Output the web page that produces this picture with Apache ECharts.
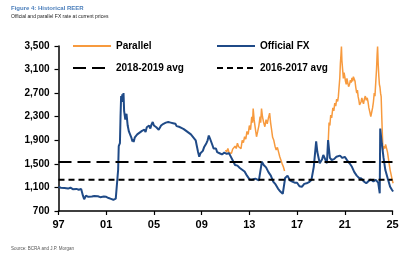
<!DOCTYPE html>
<html>
<head>
<meta charset="utf-8">
<script src="https://cdn.jsdelivr.net/npm/echarts@6/dist/echarts.min.js"></script>
<style>
  html, body { margin: 0; padding: 0; background: #fff; }
  #chart { width: 420px; height: 257px; }
</style>
</head>
<body>
<div id="chart"></div>
<script>
// official FX rate (REER), decimal year / value
var officialDates = [1997.0,1997.2,1997.3,1997.5,1997.65,1997.8,1998.0,1998.2,1998.35,1998.5,1998.7,1998.9,1999.0,1999.05,1999.15,1999.3,1999.5,1999.65,1999.8,2000.0,2000.15,2000.3,2000.5,2000.65,2000.8,2001.0,2001.2,2001.4,2001.6,2001.8,2001.95,
  2002.0,2002.05,2002.15,2002.2,2002.25,2002.3,2002.35,2002.4,2002.45,2002.5,2002.6,2002.7,2002.8,2002.9,
  2003.0,2003.1,2003.2,2003.25,2003.3,2003.4,2003.5,2003.6,2003.7,2003.8,2003.9,2004.0,2004.1,2004.2,2004.3,2004.4,2004.5,2004.6,2004.7,2004.8,2004.9,
  2005.0,2005.1,2005.2,2005.3,2005.4,2005.5,2005.6,2005.7,2005.8,2005.9,2006.0,2006.1,2006.2,2006.3,2006.4,2006.5,2006.6,2006.7,2006.8,2006.9,
  2007.0,2007.1,2007.2,2007.3,2007.4,2007.5,2007.6,2007.7,2007.8,2007.9,2008.0,2008.1,2008.2,2008.3,2008.4,2008.5,2008.6,2008.7,2008.8,2008.9,
  2009.0,2009.1,2009.2,2009.3,2009.4,2009.5,2009.6,2009.7,2009.8,2009.9,2010.0,2010.1,2010.2,2010.3,2010.4,2010.5,2010.6,2010.7,2010.8,2010.9,
  2011.0,2011.1,2011.2,2011.3,2011.4,2011.6,2011.8,
  2012.0,2012.2,2012.4,2012.6,2012.8,2013.0,2013.2,2013.5,2013.8,2013.95,2014.05,2014.2,2014.4,2014.6,2014.8,2015.0,2015.2,2015.4,2015.6,2015.8,2015.95,
  2016.0,2016.2,2016.4,2016.6,2016.8,2017.0,2017.2,2017.4,2017.6,2017.8,2018.0,2018.2,2018.4,2018.6,2018.7,2018.9,2019.1,2019.2,2019.4,2019.5,2019.6,2019.75,2019.9,
  2020.1,2020.3,2020.45,2020.6,2020.8,2021.0,2021.2,2021.4,2021.6,2021.8,2022.0,2022.2,2022.4,2022.6,2022.8,2023.0,2023.2,2023.4,2023.6,2023.8,2023.93,2023.97,
  2024.1,2024.25,2024.4,2024.6,2024.8,2024.95,2025.05];
var officialValues = [1110,1095,1105,1090,1100,1080,1095,1070,1085,1075,1060,1075,1050,960,900,960,940,960,945,955,940,950,935,955,945,940,920,905,890,910,900,
  1400,1800,1850,2300,2650,2550,2680,2600,2700,2400,2250,2350,2150,2050,
  2000,1950,1880,1920,1870,1950,1920,2000,1970,2030,2000,2060,2030,2080,2040,2120,2090,2150,2100,2170,2210,
  2150,2180,2120,2140,2080,2100,2150,2120,2180,2160,2200,2170,2210,2180,2200,2170,2190,2160,2180,2140,
  2160,2130,2150,2110,2120,2090,2100,2060,2070,2030,2040,2000,1980,1950,1970,1900,1800,1700,1620,1680,
  1650,1720,1780,1760,1850,1900,1980,1930,1960,1820,1760,1735,1760,1700,1720,1680,1700,1660,1650,1690,
  1700,1670,1660,1680,1640,1560,1480,
  1470,1430,1400,1370,1300,1240,1230,1250,1220,1230,1537,1480,1440,1360,1300,1200,1150,1080,1030,990,970,
  1260,1300,1220,1200,1180,1180,1120,1110,1160,1170,1190,1225,1450,1880,1700,1510,1580,1650,1560,1510,1905,1600,1565,
  1580,1620,1595,1640,1600,1620,1560,1510,1450,1360,1300,1260,1250,1200,1170,1210,1230,1200,1230,1180,1000,2100,
  1850,1600,1395,1250,1110,1060,1030];

// parallel rate, null where no separate market
var parallelDates = [2011.0,2011.1,2011.2,2011.3,2011.4,2011.5,2011.6,2011.7,2011.8,2011.9,2012.0,2012.1,2012.2,2012.3,2012.4,2012.5,2012.6,2012.7,2012.8,2012.9,
  2013.0,2013.1,2013.2,2013.27,2013.32,2013.4,2013.5,2013.6,2013.7,2013.8,2013.9,2013.95,2014.02,2014.1,2014.2,2014.3,2014.4,2014.5,2014.6,2014.7,2014.78,2014.85,2014.95,
  2015.05,2015.15,2015.25,2015.35,2015.45,2015.55,2015.65,2015.75,2015.85,2015.95,
  2017.0,
  2019.62,2019.68,2019.75,2019.82,2019.9,2020.0,2020.08,2020.16,2020.24,2020.32,2020.4,2020.46,2020.52,2020.58,2020.63,2020.68,2020.72,2020.76,2020.82,2020.88,2020.94,
  2021.0,2021.06,2021.12,2021.18,2021.25,2021.32,2021.4,2021.47,2021.54,2021.6,2021.66,2021.72,2021.8,2021.86,2021.92,
  2022.0,2022.06,2022.12,2022.18,2022.24,2022.3,2022.36,2022.43,2022.5,2022.57,2022.64,2022.72,2022.8,2022.88,2022.95,
  2023.02,2023.1,2023.18,2023.26,2023.33,2023.4,2023.47,2023.53,2023.6,2023.66,2023.71,2023.75,2023.8,2023.85,2023.9,2023.95,
  2024.0,2024.05,2024.1,2024.15,2024.2,2024.28,2024.35,2024.42,2024.5,2024.58,2024.65,2024.72,2024.8,2024.88,2024.95,2025.05];
var parallelValues = [1735,1700,1760,1690,1720,1680,1750,1720,1800,1760,1850,1790,1820,1760,1900,1860,1960,1920,2050,2000,
  2150,2080,2300,2200,2440,2250,2100,1960,2050,2150,2300,2200,2440,2300,2200,2130,2250,2180,2280,2360,2200,2100,1950,
  1900,1800,1735,1780,1700,1620,1590,1500,1450,1380,
  null,
  1905,2200,2150,2330,2280,2450,2400,2530,2480,2600,2560,2640,2800,2950,3200,3350,3490,3250,3100,2950,3050,
  2980,2900,2850,2950,2880,2810,2850,2920,2880,2960,2900,2980,3010,2900,2800,
  2700,2750,2640,2580,2500,2470,2550,2620,2560,2520,2600,2650,2580,2620,2550,
  2450,2380,2300,2380,2450,2550,2700,2650,2900,3100,3350,3490,3200,3000,2850,2800,
  2700,2640,2300,2000,1735,1800,1760,1830,1850,1700,1600,1500,1395,1320,1250,1170];

var avg1819 = 1530;
var avg1617 = 1230;
var xTicks = [1997,2001,2005,2009,2013,2017,2021,2025];
var yTicks = [700,1100,1500,1900,2300,2700,3100,3500];

var chart = echarts.init(document.getElementById('chart'));

function pairs(ds, vs) {
  return ds.map(function (d, i) { return [d, vs[i]]; });
}

var legendText = { fontFamily: 'Liberation Sans', fontWeight: 'bold', fontSize: 10, color: '#000' };
function legendItem(name, left, top) {
  return {
    data: [name], left: left, top: top, itemWidth: 38, itemHeight: 10, itemGap: 0,
    padding: 0, textStyle: legendText, selectedMode: false,
    itemStyle: { opacity: 0 }
  };
}

var option = {
  animation: false,
  backgroundColor: '#fff',
  title: [
    { text: 'Figure 4: Historical REER', left: 11, top: 5, padding: 0,
      textStyle: { fontFamily: 'Liberation Sans', fontWeight: 'bold', fontSize: 6, color: '#4a7ebb' } },
    { text: 'Official and parallel FX rate at current prices', left: 11, top: 14, padding: 0,
      textStyle: { fontFamily: 'Liberation Sans', fontWeight: 'normal', fontSize: 5, color: '#222' } },
    { text: 'Source: BCRA and J.P. Morgan', left: 11, top: 246, padding: 0,
      textStyle: { fontFamily: 'Liberation Sans', fontWeight: 'normal', fontSize: 4.5, color: '#555' } }
  ],
  legend: [
    legendItem('Parallel', 72, 41),
    legendItem('Official FX', 216, 41),
    legendItem('2018-2019 avg', 72, 63),
    legendItem('2016-2017 avg', 216, 63)
  ],
  grid: { left: 58.5, right: 27.5, top: 46, bottom: 46 },
  xAxis: {
    type: 'value', min: 1997, max: 2025,
    axisLine: { lineStyle: { color: '#000', width: 1.5 } },
    axisTick: { length: 4, lineStyle: { color: '#000', width: 1.2 }, customValues: xTicks },
    axisLabel: { customValues: xTicks, margin: 8, fontFamily: 'Liberation Sans', fontWeight: 'bold', fontSize: 11, color: '#000',
      formatter: function (v) { return String(v).slice(2); } },
    splitLine: { show: false }
  },
  yAxis: {
    type: 'value', min: 700, max: 3500,
    axisLine: { show: true, lineStyle: { color: '#000', width: 1.5 } },
    axisTick: { show: true, length: 4, lineStyle: { color: '#000', width: 1.2 }, customValues: yTicks },
    axisLabel: { customValues: yTicks, margin: 9, fontFamily: 'Liberation Sans', fontWeight: 'bold', fontSize: 10, color: '#000',
      formatter: function (v) { return v.toLocaleString('en-US'); } },
    splitLine: { show: false }
  },
  series: [
    { name: 'Parallel', type: 'line', data: pairs(parallelDates, parallelValues), showSymbol: false, symbol: 'none',
      connectNulls: false, lineStyle: { color: '#f79a3e', width: 1.5 }, itemStyle: { color: '#f79a3e' }, z: 2 },
    { name: 'Official FX', type: 'line', data: pairs(officialDates, officialValues), showSymbol: false, symbol: 'none',
      lineStyle: { color: '#1f4a87', width: 2 }, itemStyle: { color: '#1f4a87' }, z: 3 },
    { name: '2018-2019 avg', type: 'line', data: [[1997, avg1819], [2025, avg1819]], symbol: 'none',
      lineStyle: { color: '#000', width: 2, type: [13, 6] }, itemStyle: { color: '#000' }, z: 4 },
    { name: '2016-2017 avg', type: 'line', data: [[1997, avg1617], [2025, avg1617]], symbol: 'none',
      lineStyle: { color: '#000', width: 2, type: [6, 4] }, itemStyle: { color: '#000' }, z: 4 }
  ]
};
chart.setOption(option);
</script>
</body>
</html>
